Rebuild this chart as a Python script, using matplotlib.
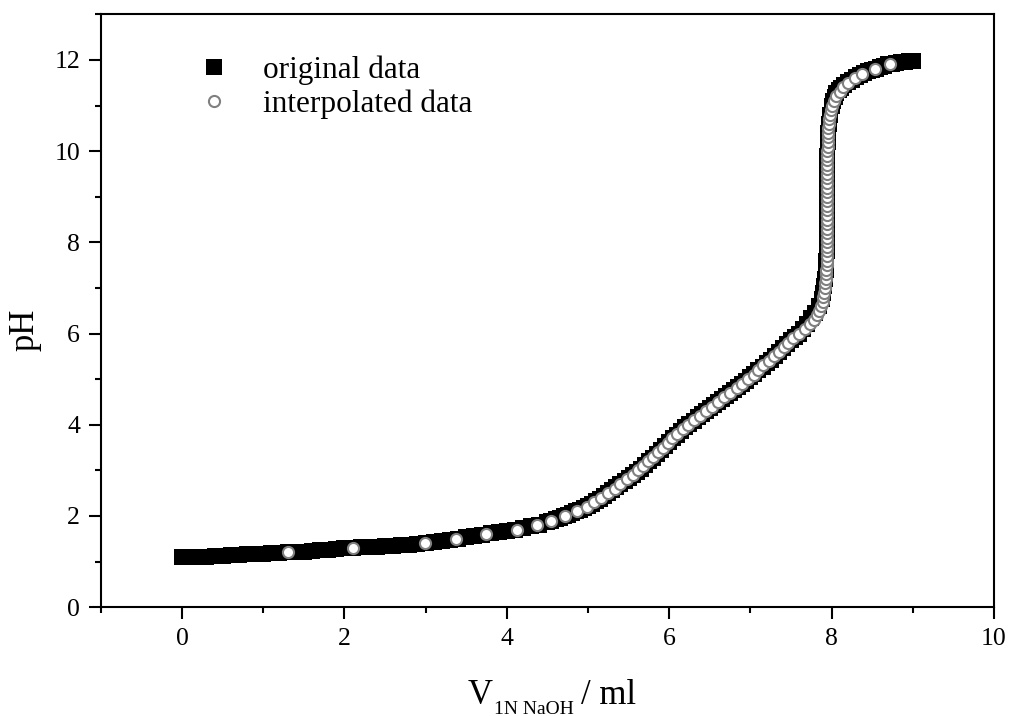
import matplotlib
matplotlib.use('Agg')
import matplotlib.pyplot as plt
from matplotlib.ticker import MultipleLocator

plt.rcParams['font.family'] = ['Liberation Serif', 'DejaVu Serif']

# original titration data (volume in ml, pH)
orig_v = [0.0, 0.1, 0.2, 0.3, 0.4, 0.5, 0.6, 0.7, 0.8, 0.9,
          1.0, 1.1, 1.2, 1.3, 1.4, 1.5, 1.6, 1.7, 1.8, 1.9,
          2.0, 2.1, 2.2, 2.3, 2.4, 2.5, 2.6, 2.7, 2.8, 2.9,
          3.0, 3.1, 3.2, 3.3, 3.4, 3.5, 3.6, 3.7, 3.8, 3.9,
          4.0, 4.1, 4.2, 4.3, 4.4, 4.5, 4.55, 4.6, 4.65, 4.7,
          4.75, 4.8, 4.85, 4.9, 4.95, 5.0, 5.05, 5.1, 5.15, 5.2,
          5.25, 5.3, 5.35, 5.4, 5.45, 5.5, 5.55, 5.6, 5.65, 5.7,
          5.75, 5.8, 5.85, 5.9, 5.95, 6.0, 6.05, 6.1, 6.15, 6.2,
          6.25, 6.3, 6.35, 6.4, 6.45, 6.5, 6.55, 6.6, 6.65, 6.7,
          6.75, 6.8, 6.85, 6.9, 6.95, 7.0, 7.05, 7.1, 7.15, 7.2,
          7.25, 7.3, 7.35, 7.4, 7.45, 7.5, 7.55, 7.6, 7.65, 7.7,
          7.75, 7.8, 7.85, 7.88, 7.9, 7.91, 7.92, 7.93, 7.93, 7.94,
          7.94, 7.94, 7.94, 7.95, 7.95, 7.95, 7.95, 7.96, 7.96, 7.97,
          7.98, 8.0, 8.02, 8.04, 8.06, 8.09, 8.12, 8.16, 8.2, 8.25,
          8.3, 8.35, 8.4, 8.45, 8.5, 8.55, 8.6, 8.65, 8.7, 8.75,
          8.8, 8.85, 8.9, 8.95, 9.0]
orig_ph = [1.10, 1.10, 1.11, 1.11, 1.12, 1.13, 1.14, 1.15, 1.16, 1.16,
           1.17, 1.18, 1.19, 1.20, 1.21, 1.22, 1.24, 1.25, 1.26, 1.27,
           1.29, 1.30, 1.31, 1.32, 1.33, 1.34, 1.35, 1.36, 1.37, 1.39,
           1.40, 1.43, 1.45, 1.48, 1.50, 1.53, 1.56, 1.59, 1.62, 1.65,
           1.67, 1.70, 1.73, 1.77, 1.81, 1.87, 1.90, 1.93, 1.96, 1.99,
           2.03, 2.06, 2.10, 2.14, 2.18, 2.22, 2.27, 2.32, 2.38, 2.44,
           2.50, 2.57, 2.63, 2.70, 2.77, 2.84, 2.90, 2.97, 3.04, 3.12,
           3.20, 3.28, 3.36, 3.45, 3.53, 3.62, 3.70, 3.78, 3.86, 3.94,
           4.02, 4.09, 4.16, 4.23, 4.30, 4.36, 4.43, 4.50, 4.56, 4.63,
           4.69, 4.76, 4.83, 4.90, 4.97, 5.04, 5.11, 5.19, 5.27, 5.35,
           5.43, 5.51, 5.59, 5.68, 5.76, 5.85, 5.92, 6.00, 6.10, 6.22,
           6.33, 6.45, 6.60, 6.75, 6.90, 7.05, 7.20, 7.40, 7.60, 7.80,
           8.10, 8.40, 8.70, 9.00, 9.30, 9.60, 9.90, 10.20, 10.40, 10.60,
           10.80, 10.98, 11.10, 11.19, 11.27, 11.33, 11.38, 11.45, 11.51, 11.57,
           11.62, 11.67, 11.71, 11.75, 11.78, 11.81, 11.84, 11.87, 11.90, 11.92,
           11.94, 11.95, 11.96, 11.97, 11.98]

# interpolated data
interp_v = [1.31, 2.11, 2.99, 3.38, 3.75, 4.12, 4.37, 4.55, 4.72, 4.86,
            4.99, 5.07, 5.16, 5.25, 5.33, 5.40, 5.48, 5.55, 5.62, 5.68,
            5.74, 5.80, 5.86, 5.92, 5.98, 6.04, 6.10, 6.17, 6.23, 6.30,
            6.38, 6.45, 6.53, 6.60, 6.68, 6.75, 6.83, 6.90, 6.97, 7.04,
            7.10, 7.16, 7.23, 7.29, 7.35, 7.41, 7.47, 7.53, 7.60, 7.67,
            7.73, 7.78, 7.82, 7.85, 7.87, 7.89, 7.90, 7.91, 7.92, 7.92,
            7.93, 7.93, 7.93, 7.94, 7.94, 7.94, 7.94, 7.94, 7.94, 7.94,
            7.94, 7.94, 7.94, 7.94, 7.94, 7.95, 7.95, 7.95, 7.95, 7.95,
            7.95, 7.95, 7.95, 7.95, 7.95, 7.95, 7.95, 7.95, 7.95, 7.96,
            7.96, 7.96, 7.96, 7.96, 7.97, 7.97, 7.98, 7.99, 8.01, 8.03,
            8.06, 8.10, 8.14, 8.20, 8.29, 8.38, 8.53, 8.72]
interp_ph = [1.2, 1.3, 1.4, 1.5, 1.6, 1.7, 1.8, 1.9, 2.0, 2.1,
             2.2, 2.3, 2.4, 2.5, 2.6, 2.7, 2.8, 2.9, 3.0, 3.1,
             3.2, 3.3, 3.4, 3.5, 3.6, 3.7, 3.8, 3.9, 4.0, 4.1,
             4.2, 4.3, 4.4, 4.5, 4.6, 4.7, 4.8, 4.9, 5.0, 5.1,
             5.2, 5.3, 5.4, 5.5, 5.6, 5.7, 5.8, 5.9, 6.0, 6.1,
             6.2, 6.3, 6.4, 6.5, 6.6, 6.7, 6.8, 6.9, 7.0, 7.1,
             7.2, 7.3, 7.4, 7.5, 7.6, 7.7, 7.8, 7.9, 8.0, 8.1,
             8.2, 8.3, 8.4, 8.5, 8.6, 8.7, 8.8, 8.9, 9.0, 9.1,
             9.2, 9.3, 9.4, 9.5, 9.6, 9.7, 9.8, 9.9, 10.0, 10.1,
             10.2, 10.3, 10.4, 10.5, 10.6, 10.7, 10.8, 10.9, 11.0, 11.1,
             11.2, 11.3, 11.4, 11.5, 11.6, 11.7, 11.8, 11.9]

fig = plt.figure(figsize=(10.09, 7.16), dpi=100)
ax = fig.add_axes([0.100, 0.152, 0.885, 0.828])

ax.plot(orig_v, orig_ph, 's', color='black', markersize=11.5,
        markeredgewidth=0, label='original data')
ax.plot(interp_v, interp_ph, 'o', markerfacecolor='white',
        markeredgecolor='#808080', markeredgewidth=1.5, markersize=8,
        label='interpolated data')

ax.set_xlim(-1, 10)
ax.set_ylim(0, 13)
ax.xaxis.set_major_locator(MultipleLocator(2))
ax.xaxis.set_minor_locator(MultipleLocator(1))
ax.yaxis.set_major_locator(MultipleLocator(2))
ax.yaxis.set_minor_locator(MultipleLocator(1))
ax.tick_params(which='both', direction='out', width=1.5, labelsize=18.5,
               top=False, right=False)
ax.tick_params(which='major', length=8.5, pad=6.5)
ax.tick_params(which='minor', length=4.3)
for s in ax.spines.values():
    s.set_linewidth(1.5)

# x label: V with a small subscript, then "/ ml"
t_v = ax.text(0.411, -0.1636, 'V', transform=ax.transAxes, fontsize=25,
              ha='left', va='baseline')
t_sub = ax.annotate('1N NaOH', xy=(1, 0), xycoords=t_v, xytext=(1, -1),
                    textcoords='offset points', fontsize=14,
                    ha='left', va='baseline')
ax.annotate('/ ml', xy=(1, 0), xycoords=(t_sub, t_v), xytext=(5, 0),
            textcoords='offset points', fontsize=25, ha='left', va='bottom')

ax.set_ylabel('pH', fontsize=25)
ax.yaxis.set_label_coords(-0.066, 0.467)

ax.legend(loc='upper left', bbox_to_anchor=(0.0918, 0.931), frameon=False,
          fontsize=22.5, handletextpad=0.58, labelspacing=0.15,
          borderpad=0, borderaxespad=0)

fig.savefig('out.png', dpi=100)
